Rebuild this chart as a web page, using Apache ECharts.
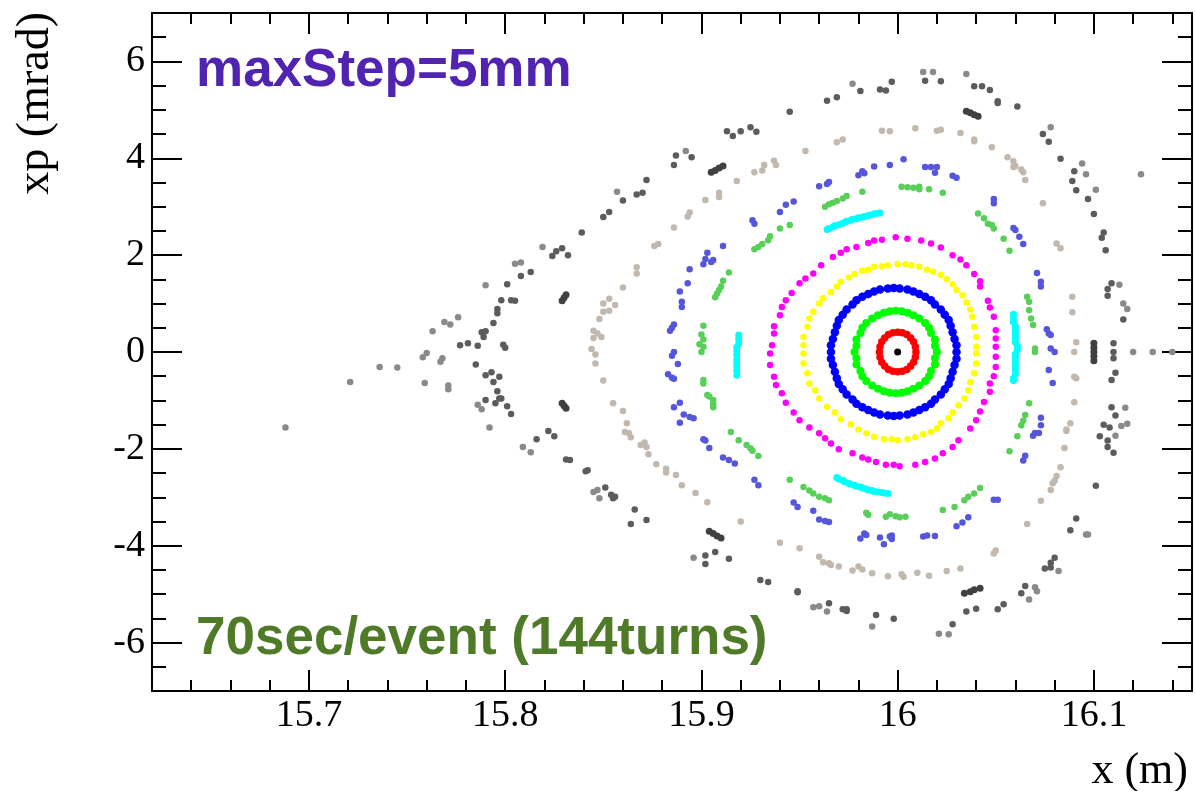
<!DOCTYPE html>
<html>
<head>
<meta charset="utf-8">
<script src="https://cdn.jsdelivr.net/npm/echarts@6/dist/echarts.min.js"></script>
<style>
html,body{margin:0;padding:0;background:#fff;}
#chart{width:1195px;height:791px;}
</style>
</head>
<body>
<div id="chart"></div>
<script>
const xTicks = [15.7, 15.8, 15.9, 16, 16.1];
const yTicks = [-6, -4, -2, 0, 2, 4, 6];

const centerPoint = [[16.0, 0]];

const redRing = [[16.0093,0],[16.0090,0.11],[16.0081,0.21],[16.0066,0.29],[16.0047,0.36],[16.0024,0.40],[16.0000,0.41],[15.9976,0.40],[15.9953,0.36],[15.9934,0.29],[15.9919,0.21],[15.9910,0.11],[15.9907,0],[15.9910,-0.11],[15.9919,-0.21],[15.9934,-0.29],[15.9953,-0.36],[15.9976,-0.40],[16.0000,-0.41],[16.0024,-0.40],[16.0047,-0.36],[16.0066,-0.29],[16.0081,-0.21],[16.0090,-0.11]];

const greenRing = [[16.020,0],[16.019,0.13],[16.019,0.26],[16.017,0.39],[16.016,0.50],[16.014,0.60],[16.011,0.69],[16.008,0.76],[16.005,0.81],[16.002,0.84],[15.999,0.85],[15.996,0.84],[15.993,0.81],[15.990,0.76],[15.987,0.69],[15.984,0.60],[15.982,0.50],[15.981,0.39],[15.979,0.26],[15.979,0.13],[15.978,0],[15.979,-0.13],[15.979,-0.26],[15.981,-0.39],[15.982,-0.50],[15.984,-0.60],[15.987,-0.69],[15.990,-0.76],[15.993,-0.81],[15.996,-0.84],[15.999,-0.85],[16.002,-0.84],[16.005,-0.81],[16.008,-0.76],[16.011,-0.69],[16.014,-0.60],[16.016,-0.50],[16.017,-0.39],[16.019,-0.26],[16.019,-0.13]];

const blueRing = [[16.030,0.00],[16.030,0.14],[16.029,0.27],[16.028,0.41],[16.027,0.54],[16.026,0.66],[16.024,0.77],[16.022,0.88],[16.019,0.98],[16.017,1.07],[16.014,1.14],[16.011,1.20],[16.008,1.25],[16.005,1.29],[16.001,1.31],[15.998,1.32],[15.995,1.31],[15.991,1.29],[15.988,1.25],[15.985,1.20],[15.982,1.14],[15.979,1.07],[15.977,0.98],[15.974,0.88],[15.972,0.77],[15.970,0.66],[15.969,0.54],[15.968,0.41],[15.967,0.27],[15.966,0.14],[15.966,0.00],[15.966,-0.14],[15.967,-0.27],[15.968,-0.41],[15.969,-0.54],[15.970,-0.66],[15.972,-0.77],[15.974,-0.88],[15.977,-0.98],[15.979,-1.07],[15.982,-1.14],[15.985,-1.20],[15.988,-1.25],[15.991,-1.29],[15.995,-1.31],[15.998,-1.32],[16.001,-1.31],[16.005,-1.29],[16.008,-1.25],[16.011,-1.20],[16.014,-1.14],[16.017,-1.07],[16.019,-0.98],[16.022,-0.88],[16.024,-0.77],[16.026,-0.66],[16.027,-0.54],[16.028,-0.41],[16.029,-0.27],[16.030,-0.14]];

const yellowRing = [[15.995,1.79],[16.000,1.81],[16.004,1.81],[16.007,1.79],[16.011,1.76],[16.015,1.70],[16.018,1.66],[16.022,1.59],[16.025,1.50],[16.028,1.40],[16.030,1.28],[16.033,1.17],[16.035,1.02],[16.037,0.88],[16.038,0.73],[16.039,0.52],[16.040,0.31],[16.040,0.11],[16.040,-0.03],[16.040,-0.24],[16.039,-0.44],[16.037,-0.62],[16.036,-0.79],[16.034,-0.96],[16.031,-1.10],[16.028,-1.25],[16.026,-1.37],[16.022,-1.47],[16.020,-1.58],[16.017,-1.65],[16.013,-1.70],[16.009,-1.76],[16.005,-1.80],[16.000,-1.82],[15.997,-1.80],[15.993,-1.80],[15.988,-1.75],[15.984,-1.68],[15.980,-1.60],[15.976,-1.49],[15.971,-1.39],[15.968,-1.25],[15.964,-1.13],[15.960,-0.96],[15.958,-0.79],[15.955,-0.65],[15.954,-0.44],[15.952,-0.24],[15.952,-0.03],[15.952,0.14],[15.952,0.31],[15.954,0.52],[15.955,0.69],[15.957,0.83],[15.960,1.00],[15.962,1.11],[15.966,1.24],[15.969,1.35],[15.971,1.45],[15.975,1.54],[15.978,1.61],[15.982,1.68],[15.985,1.70],[15.988,1.76],[15.992,1.77]];

const magentaRing = [[15.999,2.37],[16.005,2.34],[16.012,2.30],[16.017,2.24],[16.022,2.16],[16.028,2.00],[16.032,1.91],[16.035,1.79],[16.039,1.61],[16.042,1.46],[16.042,1.35],[16.046,1.06],[16.047,0.92],[16.049,0.73],[16.050,0.45],[16.050,0.28],[16.050,0.11],[16.050,-0.10],[16.050,-0.31],[16.049,-0.50],[16.047,-0.65],[16.047,-0.82],[16.044,-1.03],[16.042,-1.23],[16.040,-1.41],[16.037,-1.58],[16.031,-1.82],[16.028,-1.96],[16.023,-2.09],[16.019,-2.20],[16.014,-2.27],[16.009,-2.33],[16.001,-2.36],[15.998,-2.33],[15.994,-2.33],[15.989,-2.27],[15.985,-2.22],[15.982,-2.18],[15.977,-2.09],[15.970,-2.01],[15.966,-1.89],[15.963,-1.78],[15.960,-1.68],[15.955,-1.56],[15.950,-1.41],[15.947,-1.25],[15.943,-1.05],[15.941,-0.85],[15.938,-0.68],[15.937,-0.51],[15.935,-0.27],[15.935,-0.03],[15.936,0.14],[15.937,0.38],[15.937,0.53],[15.940,0.76],[15.941,0.93],[15.943,1.07],[15.946,1.22],[15.950,1.42],[15.953,1.52],[15.957,1.62],[15.961,1.79],[15.967,1.96],[15.971,2.05],[15.974,2.12],[15.979,2.17],[15.985,2.25],[15.988,2.30],[15.992,2.32]];

const cyanArcs = [[15.964,2.53],[15.965,2.55],[15.967,2.58],[15.968,2.61],[15.970,2.63],[15.972,2.66],[15.973,2.68],[15.974,2.70],[15.976,2.72],[15.977,2.74],[15.979,2.75],[15.980,2.77],[15.982,2.78],[15.983,2.80],[15.985,2.82],[15.986,2.83],[15.988,2.85],[15.989,2.86],[15.991,2.87],
[15.969,-2.59],[15.970,-2.62],[15.972,-2.65],[15.973,-2.68],[15.975,-2.71],[15.976,-2.73],[15.978,-2.75],[15.979,-2.77],[15.981,-2.79],[15.982,-2.81],[15.984,-2.83],[15.985,-2.85],[15.987,-2.86],[15.988,-2.88],[15.990,-2.89],[15.992,-2.90],[15.993,-2.91],[15.995,-2.92],
[16.059,0.78],[16.059,0.70],[16.059,0.62],[16.060,0.53],[16.060,0.45],[16.060,0.37],[16.060,0.29],[16.060,0.20],[16.061,0.12],[16.061,0.04],[16.060,-0.04],[16.060,-0.12],[16.060,-0.21],[16.060,-0.29],[16.060,-0.37],[16.060,-0.46],[16.059,-0.54],[16.059,-0.59],
[15.919,0.35],[15.919,0.27],[15.919,0.18],[15.918,0.10],[15.918,0.02],[15.918,-0.06],[15.918,-0.15],[15.918,-0.23],[15.918,-0.31],[15.918,-0.39],[15.918,-0.48]];

const greenIslands = [[15.963,3.00],[15.965,3.05],[15.967,3.08],[15.969,3.12],[15.972,3.17],[15.974,3.22],[15.982,3.31],[16.002,3.41],[16.005,3.40],[16.008,3.39],[16.011,3.41],[16.011,3.36],[16.016,3.36],[16.023,3.29],[16.041,2.86],[16.044,2.76],[16.046,2.65],[16.048,2.62],[16.049,2.55],[16.054,2.34],[16.057,2.09],[16.066,1.14],[16.067,1.04],[16.067,0.86],[16.068,0.69],[16.069,0.56],[16.070,0.07],[16.070,0.00],[16.067,-1.06],[16.065,-1.30],[16.064,-1.42],[16.063,-1.51],[16.061,-1.74],[16.057,-2.05],[16.042,-2.81],[16.039,-2.92],[16.036,-2.99],[16.034,-3.06],[16.029,-3.20],[16.023,-3.26],[16.004,-3.40],[16.001,-3.41],[15.999,-3.39],[15.996,-3.35],[15.994,-3.40],[15.985,-3.36],[15.984,-3.32],[15.965,-3.06],[15.963,-3.02],[15.960,-2.99],[15.957,-2.92],[15.955,-2.86],[15.952,-2.79],[15.945,-2.64],[15.929,-2.15],[15.926,-2.04],[15.925,-1.99],[15.923,-1.92],[15.919,-1.82],[15.915,-1.65],[15.906,-1.14],[15.906,-1.08],[15.906,-0.99],[15.904,-0.92],[15.903,-0.89],[15.901,-0.65],[15.901,-0.58],[15.900,0.00],[15.901,0.11],[15.899,0.16],[15.901,0.26],[15.900,0.36],[15.901,0.54],[15.907,1.13],[15.908,1.21],[15.909,1.28],[15.910,1.35],[15.911,1.47],[15.914,1.64],[15.927,2.12],[15.929,2.17],[15.931,2.23],[15.934,2.31],[15.935,2.39],[15.940,2.55],[15.945,2.62]];

const violetIslands = [[15.960,3.42],[15.964,3.47],[15.965,3.51],[15.940,2.89],[15.943,3.04],[15.947,3.11],[15.926,2.72],[15.927,2.65],[15.911,2.19],[15.903,2.05],[15.902,1.92],[15.906,1.90],[15.901,1.81],[15.905,1.86],[15.894,1.71],[15.893,1.42],[15.889,1.25],[15.890,1.04],[15.890,0.93],[15.886,0.57],[15.884,0.44],[15.885,0.50],[15.886,0.00],[15.885,-0.08],[15.888,-0.25],[15.883,-0.46],[15.885,-0.53],[15.886,-0.55],[15.886,-1.14],[15.889,-1.05],[15.891,-1.29],[15.894,-1.34],[15.896,-1.37],[15.889,-1.46],[15.901,-1.80],[15.902,-1.83],[15.904,-1.98],[15.911,-2.18],[15.914,-2.23],[15.917,-2.30],[15.927,-2.64],[15.929,-2.75],[15.947,-3.11],[15.949,-3.20],[15.957,-3.28],[15.960,-3.46],[15.963,-3.49],[15.965,-3.51],[15.981,-3.85],[15.983,-3.75],[15.984,-3.78],[15.991,-3.83],[15.993,-3.97],[15.996,-3.81],[15.997,-3.79],[15.997,-3.86],[16.013,-3.81],[16.015,-3.79],[16.019,-3.80],[16.030,-3.60],[16.033,-3.52],[16.036,-3.41],[16.049,-3.05],[16.051,-3.05],[16.064,-2.24],[16.065,-2.14],[16.069,-1.73],[16.070,-1.67],[16.072,-1.67],[16.073,-1.36],[16.073,-1.51],[16.079,-0.64],[16.077,-0.37],[16.078,0.07],[16.080,0.00],[16.076,0.47],[16.077,0.38],[16.078,0.35],[16.071,1.63],[16.073,1.45],[16.073,1.35],[16.059,2.56],[16.060,2.52],[16.062,2.38],[16.064,2.23],[16.049,3.16],[16.049,3.07],[16.028,3.64],[16.030,3.60],[16.014,3.82],[16.017,3.82],[16.020,3.82],[16.019,3.70],[16.003,3.98],[15.996,3.86],[15.988,3.83],[15.980,3.65],[15.982,3.73],[15.983,3.69]];

const tanRing = [[15.992,4.57],[15.996,4.56],[16.009,4.62],[16.020,4.57],[16.022,4.59],[16.032,4.52],[16.039,4.39],[16.039,4.35],[16.048,4.23],[16.056,4.02],[16.059,3.94],[16.060,3.84],[16.059,3.82],[16.063,3.77],[16.064,3.71],[16.065,3.55],[16.074,3.07],[16.081,2.24],[16.083,2.14],[16.089,1.14],[16.089,0.82],[16.091,0.20],[16.090,0.00],[16.090,-0.51],[16.091,-0.54],[16.090,-1.04],[16.088,-1.47],[16.086,-1.60],[16.086,-1.63],[16.085,-1.98],[16.083,-2.38],[16.081,-2.56],[16.080,-2.66],[16.079,-2.71],[16.078,-2.85],[16.073,-3.07],[16.066,-3.55],[16.050,-4.10],[16.049,-4.16],[16.032,-4.47],[16.025,-4.52],[16.016,-4.62],[16.010,-4.56],[16.003,-4.64],[16.002,-4.59],[15.995,-4.63],[15.987,-4.57],[15.982,-4.49],[15.980,-4.43],[15.977,-4.51],[15.970,-4.43],[15.966,-4.40],[15.965,-4.36],[15.962,-4.34],[15.960,-4.23],[15.950,-4.05],[15.940,-3.94],[15.920,-3.50],[15.903,-3.10],[15.897,-2.91],[15.890,-2.75],[15.887,-2.54],[15.882,-2.49],[15.882,-2.41],[15.877,-2.32],[15.873,-2.11],[15.872,-1.96],[15.871,-1.87],[15.869,-1.92],[15.864,-1.76],[15.863,-1.68],[15.861,-1.65],[15.862,-1.47],[15.860,-1.22],[15.855,-1.06],[15.850,-0.59],[15.846,-0.24],[15.846,-0.05],[15.844,0.06],[15.845,0.29],[15.849,0.31],[15.847,0.38],[15.845,0.44],[15.848,0.68],[15.853,0.85],[15.850,0.83],[15.856,0.97],[15.850,1.00],[15.853,1.10],[15.860,1.33],[15.867,1.75],[15.867,1.62],[15.876,2.19],[15.878,2.23],[15.886,2.57],[15.893,2.80],[15.894,2.88],[15.902,3.14],[15.909,3.20],[15.909,3.29],[15.918,3.53],[15.927,3.71],[15.931,3.75],[15.932,3.86],[15.937,3.95],[15.938,3.86],[15.953,4.15],[15.969,4.33],[15.972,4.39]];

const grayIslands = [[15.905,3.71],[15.907,3.75],[15.909,3.80],[15.911,3.84],[15.904,-3.70],[15.906,-3.75],[15.908,-3.80],[15.910,-3.84],[15.829,1.06],[15.830,1.12],[15.831,1.18],[15.829,-1.06],[15.830,-1.11],[15.831,-1.16],[16.035,4.97],[16.037,4.94],[16.039,4.90],[16.041,4.87],[16.034,-4.98],[16.037,-4.95],[16.039,-4.91],[16.042,-4.88],[16.100,0.18],[16.100,0.09],[16.100,0.00],[16.100,-0.09],[16.100,-0.18]];

const grayLight = [[15.688,-1.56],[15.721,-0.62],[15.736,-0.31],[15.745,-0.32],[15.759,-0.64],[15.758,-0.11],[15.760,-0.02],[15.767,-0.20],[15.768,-0.13],[15.771,-0.69],[15.771,-0.77],[15.763,0.43],[15.769,0.62],[15.772,0.57],[15.776,0.72],[15.790,1.38],[15.805,1.82],[15.808,1.85],[15.819,2.17],[15.786,-1.09],[15.788,-1.18],[15.792,-1.56],[15.809,-1.96],[15.813,-2.07],[15.977,5.54],[16.013,5.78],[16.018,5.78],[16.035,5.74],[16.078,4.64],[15.892,4.15],[15.857,3.31],[16.094,3.89],[16.096,3.67],[16.101,3.35],[16.124,3.67],[16.113,1.39],[16.115,1.00],[16.117,0.89],[16.120,0],[16.130,0],[16.140,0],[16.116,-1.15],[16.114,-1.53],[16.117,-1.48],[16.111,-1.73],[16.096,-3.77],[16.097,-3.77],[16.082,-4.52],[16.070,-4.86],[16.071,-4.94],[16.067,-5.11],[15.845,-2.89],[15.847,-2.85],[15.848,-3.02],[15.896,-4.25],[15.957,-5.27],[15.960,-5.25],[15.964,-5.36],[15.987,-5.67],[16.021,-5.82],[16.026,-5.83]];

const grayDark = [[15.777,0.14],[15.781,0.18],[15.786,0.13],[15.785,-0.26],[15.788,0.41],[15.790,0.43],[15.789,0.31],[15.794,0.60],[15.796,0.89],[15.796,0.80],[15.798,1.07],[15.801,1.40],[15.803,1.07],[15.805,1.06],[15.808,1.57],[15.813,1.65],[15.824,1.98],[15.826,2.08],[15.829,2.14],[15.832,2.00],[15.799,0.15],[15.800,0.09],[15.790,-0.48],[15.793,-0.42],[15.794,-0.62],[15.797,-0.51],[15.796,-0.81],[15.797,-0.96],[15.798,-0.96],[15.790,-0.99],[15.795,-1.06],[15.801,-1.12],[15.803,-1.28],[15.822,-1.63],[15.825,-1.74],[15.816,-1.80],[15.831,-2.22],
[15.945,4.96],[15.964,5.19],[15.969,5.26],[15.981,5.39],[15.991,5.42],[15.994,5.40],[15.997,5.58],[16.014,5.60],[16.022,5.59],[16.039,5.49],[16.043,5.49],[16.047,5.41],[16.051,5.18],[16.051,5.14],[16.061,5.07],[16.074,4.50],[16.077,4.34],[16.083,3.99],
[15.925,4.64],[15.928,4.55],[15.920,4.56],[15.913,4.56],[15.916,4.46],[15.887,4.06],[15.895,4.02],[15.886,3.86],[15.872,3.55],[15.860,3.13],[15.867,3.25],[15.870,3.29],[15.850,2.79],[15.853,2.89],[15.839,2.47],
[16.090,3.73],[16.089,3.53],[16.091,3.34],[16.097,3.16],[16.100,2.85],[16.105,2.47],[16.104,2.36],[16.106,2.10],[16.109,1.42],[16.107,1.30],[16.107,1.16],[16.115,0.67],
[16.110,0.18],[16.110,0],[16.110,-0.13],[16.111,-0.43],[16.109,-0.58],[16.109,-1.14],[16.111,-1.31],[16.105,-1.50],[16.108,-1.56],[16.103,-1.74],[16.107,-1.83],[16.107,-1.96],[16.110,-2.08],[16.101,-2.76],[16.091,-3.44],[16.088,-3.68],[16.080,-4.25],[16.078,-4.35],[16.075,-4.47],[16.078,-4.45],[16.065,-4.83],[16.063,-4.98],[16.054,-5.21],[16.051,-5.31],[16.040,-5.30],
[15.833,-2.23],[15.841,-2.46],[15.842,-2.44],[15.851,-2.80],[15.854,-2.95],[15.855,-3.02],[15.856,-2.99],[15.866,-3.25],[15.864,-3.55],[15.872,-3.47],[15.902,-4.20],[15.907,-4.13],[15.902,-4.38],[15.914,-4.27],[15.930,-4.71],[15.934,-4.75],[15.949,-4.96],[15.949,-4.94],[15.965,-5.19],[15.972,-5.31],[15.974,-5.35],[15.974,-5.31],[15.989,-5.43],[15.998,-5.51],[16.028,-5.62],[16.035,-5.36]];

const X_MIN = 15.62, X_MAX = 16.15, Y_MIN = -7, Y_MAX = 7;
const serif = 'Liberation Serif';
const blackLine = { color: '#000', width: 2 };

function xAxisDef(position, major, withLabels) {
  const ax = {
    type: 'value', min: X_MIN, max: X_MAX, position: position,
    splitLine: { show: false },
    axisLine: { show: major, onZero: false, lineStyle: blackLine },
    axisTick: { show: true, inside: true, length: major ? 21 : 11, lineStyle: blackLine },
    axisLabel: { show: false }
  };
  if (major) {
    ax.axisTick.customValues = xTicks;
    ax.axisLabel = withLabels ? { show: true, customValues: xTicks, fontFamily: serif, fontSize: 38, color: '#000', margin: 6, formatter: v => String(v) } : { show: false };
  } else {
    ax.interval = 0.02;
  }
  return ax;
}
function yAxisDef(position, major, withLabels) {
  const ax = {
    type: 'value', min: Y_MIN, max: Y_MAX, position: position,
    splitLine: { show: false },
    axisLine: { show: major, onZero: false, lineStyle: blackLine },
    axisTick: { show: true, inside: true, length: major ? 30 : 14, lineStyle: blackLine },
    axisLabel: { show: false }
  };
  if (major) {
    ax.axisTick.customValues = yTicks;
    ax.axisLabel = withLabels ? { show: true, customValues: yTicks, fontFamily: serif, fontSize: 38, color: '#000', margin: 7, formatter: v => String(v) } : { show: false };
  } else {
    ax.interval = 0.5;
  }
  return ax;
}

function pts(name, data, color, size) {
  return { name: name, type: 'scatter', data: data, xAxisIndex: 0, yAxisIndex: 0,
    symbol: 'circle', symbolSize: size, itemStyle: { color: color, opacity: 1 },
    silent: true, animation: false };
}

const chart = echarts.init(document.getElementById('chart'), null, { renderer: 'canvas' });
chart.setOption({
  animation: false,
  backgroundColor: '#fff',
  grid: { left: 152, right: 3, top: 13, bottom: 100, containLabel: false },
  xAxis: [xAxisDef('bottom', false), xAxisDef('bottom', true, true), xAxisDef('top', false), xAxisDef('top', true, false)],
  yAxis: [yAxisDef('left', false), yAxisDef('left', true, true), yAxisDef('right', false), yAxisDef('right', true, false)],
  series: [
    pts('gray light', grayLight, '#8a8a8a', 6.5),
    pts('gray dark', grayDark, '#5c5c5c', 6.5),
    pts('gray islands', grayIslands, '#404040', 7),
    pts('tan', tanRing, '#c2b8ad', 6.5),
    pts('violet', violetIslands, '#5656dc', 6.5),
    pts('light green', greenIslands, '#58d058', 6.5),
    pts('cyan', cyanArcs, '#00ffff', 7),
    pts('magenta', magentaRing, '#ff00ff', 6.5),
    pts('yellow', yellowRing, '#ffff00', 6.5),
    pts('blue', blueRing, '#0000ff', 8.5),
    pts('green', greenRing, '#00ff00', 8),
    pts('red', redRing, '#ff0000', 7.5),
    pts('center', centerPoint, '#000000', 7)
  ],
  graphic: [
    { type: 'text', x: 196, y: 71.5, silent: true,
      style: { text: 'maxStep=5mm', font: 'bold 53px "Liberation Sans"', fill: '#5023b0', align: 'left', verticalAlign: 'middle' } },
    { type: 'text', x: 196, y: 639.5, silent: true,
      style: { text: '70sec/event (144turns)', font: 'bold 53px "Liberation Sans"', fill: '#4f7a28', align: 'left', verticalAlign: 'middle' } },
    { type: 'text', x: 1188, y: 771, silent: true,
      style: { text: 'x (m)', font: '44px "Liberation Serif"', fill: '#000', align: 'right', verticalAlign: 'middle' } },
    { type: 'text', x: 36, y: 12, rotation: Math.PI / 2, silent: true,
      style: { text: 'xp (mrad)', font: '46px "Liberation Serif"', fill: '#000', align: 'right', verticalAlign: 'middle' } }
  ]
});
</script>
</body>
</html>
